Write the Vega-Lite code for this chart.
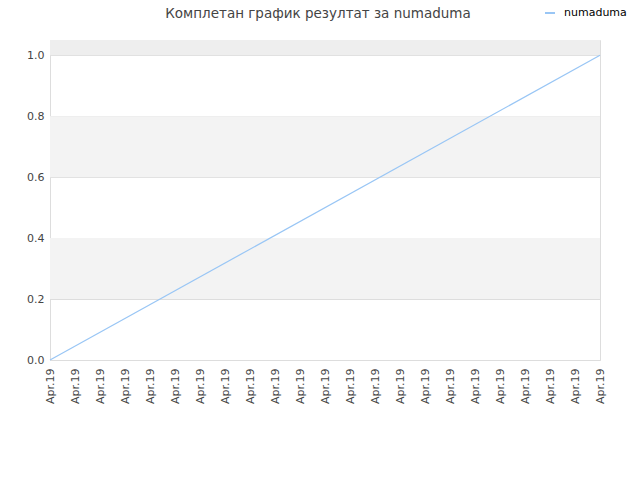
{
  "$schema": "https://vega.github.io/schema/vega-lite/v6.json",
  "autosize": "none",
  "width": 550,
  "height": 320,
  "padding": {"left": 50, "top": 40, "right": 40, "bottom": 120},
  "title": {
    "text": "Комплетан график резултат за numaduma",
    "font": "DejaVu Sans",
    "fontSize": 13.5,
    "fontWeight": "normal",
    "color": "#444444",
    "anchor": "middle",
    "offset": -13,
    "dx": -7
  },
  "datasets": {
    "bands": [
      {"from": 0.2, "to": 0.4, "band": "alt"},
      {"from": 0.6, "to": 0.8, "band": "alt"},
      {"from": 1.0, "to": 1.05, "band": "top"}
    ],
    "scores": [
      {"step": 0, "score": 0.0, "series": "numaduma"},
      {"step": 22, "score": 1.0, "series": "numaduma"}
    ]
  },
  "layer": [
    {
      "data": {"name": "bands"},
      "mark": {"type": "rect"},
      "encoding": {
        "y": {"field": "from", "type": "quantitative", "scale": {"domain": [0, 1.05], "nice": false}},
        "y2": {"field": "to"},
        "fill": {
          "field": "band",
          "type": "nominal",
          "scale": {"domain": ["alt", "top"], "range": ["#f3f3f3", "#eeeeee"]},
          "legend": null
        }
      }
    },
    {
      "data": {"name": "scores"},
      "mark": {"type": "line", "strokeWidth": 1.2},
      "encoding": {
        "x": {
          "field": "step",
          "type": "quantitative",
          "scale": {"domain": [0, 22], "nice": false},
          "title": null,
          "axis": {
            "values": [0, 1, 2, 3, 4, 5, 6, 7, 8, 9, 10, 11, 12, 13, 14, 15, 16, 17, 18, 19, 20, 21, 22],
            "labelExpr": "'Apr.19'",
            "labelAngle": -90,
            "labelAlign": "right",
            "labelBaseline": "middle",
            "labelPadding": 8,
            "labelFont": "DejaVu Sans",
            "labelFontSize": 11,
            "labelColor": "#444444",
            "labelOverlap": false,
            "labelBound": false,
            "labelFlush": false,
            "grid": false,
            "ticks": false,
            "domain": false
          }
        },
        "y": {
          "field": "score",
          "type": "quantitative",
          "scale": {"domain": [0, 1.05], "nice": false},
          "title": null,
          "axis": {
            "values": [0, 0.2, 0.4, 0.6, 0.8, 1.0],
            "format": ".1f",
            "labelFont": "DejaVu Sans",
            "labelFontSize": 11,
            "labelColor": "#444444",
            "labelPadding": 6,
            "grid": true,
            "gridColor": "#dddddd",
            "ticks": false,
            "domain": false
          }
        },
        "stroke": {
          "field": "series",
          "type": "nominal",
          "scale": {"range": ["#99c6f5"]},
          "legend": {
            "title": null,
            "orient": "none",
            "legendX": 494,
            "legendY": -33,
            "symbolType": "stroke",
            "symbolSize": 100,
            "symbolStrokeWidth": 2,
            "labelOffset": 8,
            "labelFont": "DejaVu Sans",
            "labelFontSize": 11,
            "labelColor": "#000000"
          }
        }
      }
    }
  ],
  "config": {
    "view": {"stroke": "#dddddd"}
  }
}
